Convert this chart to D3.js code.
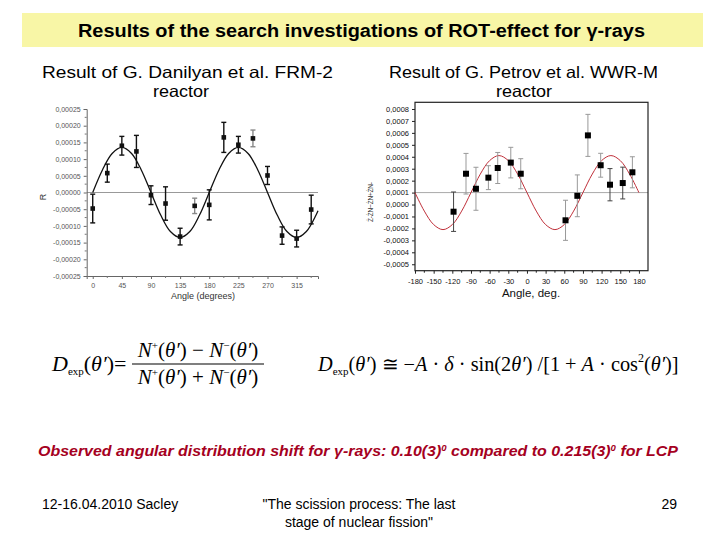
<!DOCTYPE html>
<html><head><meta charset="utf-8">
<script src="https://cdn.jsdelivr.net/npm/d3@7"></script>
<style>
html,body{margin:0;padding:0;background:#fff;}
svg{display:block;}
</style></head>
<body>
<script>
// ---------- DATA ----------
// Left chart: G. Danilyan et al., FRM-2
const leftAngles = [0, 22.5, 45, 67.5, 90, 112.5, 135, 157.5, 180, 202.5, 225, 247.5, 270, 292.5, 315, 337.5];
const leftR      = [-0.000048, 0.000058, 0.00014, 0.000123, -0.000008, -0.000033, -0.000132, -0.00004, -0.000037, 0.000165, 0.000143, 0.000162, 0.000051, -0.000129, -0.000138, -0.000051];
const leftErr    = [0.000043, 0.000027, 0.000028, 0.000048, 0.000028, 0.00005, 0.000025, 0.000023, 0.000045, 0.000045, 0.000025, 0.000025, 0.000027, 0.000026, 0.000025, 0.000043];
const leftErrGray = [false,false,false,false,false,false,false,true,false,false,false,true,false,false,false,false];
const leftFitAngles = [0,15,30,45,60,75,90,105,120,135,150,165,180,195,210,225,240,255,270,285,300,315,330,345,348];
const leftFitR      = [0,0.0000675,0.000117,0.000135,0.000117,0.0000675,0,-0.0000675,-0.000117,-0.000135,-0.000117,-0.0000675,0,0.0000675,0.000117,0.000135,0.000117,0.0000675,0,-0.0000675,-0.000117,-0.000135,-0.000117,-0.0000675,-0.000055];
const leftXTicks = [0,45,90,135,180,225,270,315];
const leftYTicks = [-0.00025,-0.0002,-0.00015,-0.0001,-0.00005,0,0.00005,0.0001,0.00015,0.0002,0.00025];

// Right chart: G. Petrov et al., WWR-M
const rightAngles = [-118, -98, -82, -62, -47, -26, -10, 62, 81, 98, 118.5, 133.5, 154, 169.5];
const rightD      = [-0.00006, 0.000258, 0.000132, 0.000225, 0.000306, 0.000351, 0.000258, -0.000132, 0.000073, 0.000579, 0.000329, 0.000166, 0.00018, 0.00027];
const rightErr    = [0.000165, 0.00017, 0.00018, 0.0001, 0.00013, 0.000128, 0.000126, 0.000168, 0.000175, 0.000176, 0.0001, 0.000135, 0.000133, 0.00013];
const rightErrDark = [true,false,false,false,false,false,false,false,false,false,false,true,true,false];
const rightFitAngles = [-180,-165,-150,-135,-120,-105,-90,-75,-60,-45,-30,-15,0,15,30,45,60,75,90,105,120,135,150,165,180];
const rightFitD      = [0.0001,-0.000055,-0.000168,-0.00021,-0.000168,-0.000055,0.0001,0.000255,0.000368,0.00041,0.000368,0.000255,0.0001,-0.000055,-0.000168,-0.00021,-0.000168,-0.000055,0.0001,0.000255,0.000368,0.00041,0.000368,0.000255,0.0001];
const rightXTicks = [-180,-150,-120,-90,-60,-30,0,30,60,90,120,150,180];
const rightYTicks = [-0.0005,-0.0004,-0.0003,-0.0002,-0.0001,0,0.0001,0.0002,0.0003,0.0004,0.0005,0.0006,0.0007,0.0008];

// ---------- SVG ----------
const W = 720, H = 540;
const svg = d3.select("body").append("svg").attr("width", W).attr("height", H);
const sans = "'Liberation Sans', Arial, sans-serif";
const serif = "'Liberation Serif', 'Times New Roman', serif";

// Title bar
svg.append("rect").attr("x", 22).attr("y", 13).attr("width", 681).attr("height", 34).attr("fill", "#F8F6A6");
svg.append("text").attr("x", 78).attr("y", 37)
  .attr("font-family", sans).attr("font-weight", "bold").attr("font-size", 18).attr("fill", "#000")
  .attr("textLength", 567).attr("lengthAdjust", "spacingAndGlyphs")
  .text("Results of the search investigations of ROT-effect for γ-rays");

// Subtitles
function sub(x, lines) {
  lines.forEach((l, i) => svg.append("text").attr("x", x).attr("y", 78 + i * 19)
    .attr("font-family", sans).attr("font-size", 16.5).attr("fill", "#000")
    .attr("textLength", l.w).attr("lengthAdjust", "spacingAndGlyphs").text(l.t));
}
sub(42, [{t: "Result of  G. Danilyan et al. FRM-2", w: 291}]);
sub(153, [{t: "", w: 1}, {t: "reactor", w: 56}]);
sub(389, [{t: "Result of G. Petrov et al. WWR-M", w: 269}]);
sub(496, [{t: "", w: 1}, {t: "reactor", w: 56}]);

function fmtComma(d, p) {
  const s = Math.abs(d).toFixed(p).replace(".", ",");
  return (d < -1e-12 ? "-" : "") + s;
}

// ---------- LEFT CHART ----------
const xL = d3.scaleLinear().domain([-9.3, 348]).range([86.7, 318]);
const yL = d3.scaleLinear().domain([-0.00025, 0.00025]).range([276, 109]);
const gL = svg.append("g");
gL.append("line").attr("x1", xL(-9.3)).attr("x2", xL(348)).attr("y1", yL(0)).attr("y2", yL(0))
  .attr("stroke", "#999").attr("stroke-width", 1);
const axL = d3.axisLeft(yL).tickValues(leftYTicks).tickSize(3).tickFormat(d => fmtComma(d, 5));
const axLg = gL.append("g").attr("transform", `translate(${xL(-9.3)},0)`).call(axL);
const axB = d3.axisBottom(xL).tickValues(leftXTicks).tickSize(3).tickFormat(d3.format("d"));
const axBg = gL.append("g").attr("transform", `translate(0,${yL(-0.00025)})`).call(axB);
[axLg, axBg].forEach(g => {
  g.select(".domain").attr("stroke", "#666");
  g.selectAll(".tick line").attr("stroke", "#666");
  g.selectAll("text").attr("font-family", sans).attr("font-size", 7).attr("fill", "#555");
});
axBg.selectAll("text").attr("dy", "0.9em");
const minorLY = d3.range(-0.000225, 0.00025, 0.00005);
gL.selectAll(".mly").data(minorLY).join("line").attr("x1", xL(-9.3) - 2).attr("x2", xL(-9.3))
  .attr("y1", d => yL(d)).attr("y2", d => yL(d)).attr("stroke", "#777");
const minorLX = d3.range(22.5, 348, 45);
gL.selectAll(".mlx").data(minorLX).join("line").attr("x1", d => xL(d)).attr("x2", d => xL(d))
  .attr("y1", yL(-0.00025)).attr("y2", yL(-0.00025) + 2).attr("stroke", "#777");
gL.append("text").attr("x", 203).attr("y", 299).attr("text-anchor", "middle").attr("font-family", sans)
  .attr("font-size", 9).attr("fill", "#333").text("Angle (degrees)");
gL.append("text").attr("transform", `translate(46,197) rotate(-90)`).attr("text-anchor", "middle")
  .attr("font-family", sans).attr("font-size", 9).attr("fill", "#333").text("R");
const leftFit = leftFitAngles.map((a, i) => [a, leftFitR[i]]);
gL.append("path").datum(leftFit).attr("fill", "none").attr("stroke", "#111").attr("stroke-width", 1.3)
  .attr("d", d3.line().x(d => xL(d[0])).y(d => yL(d[1])).curve(d3.curveCatmullRom));
const leftPts = leftAngles.map((a, i) => ({a, v: leftR[i], e: leftErr[i], g: leftErrGray[i]}));
const ebL = gL.selectAll(".ebl").data(leftPts).join("g").attr("stroke", d => d.g ? "#888" : "#111").attr("stroke-width", 1.4);
ebL.append("line").attr("x1", d => xL(d.a)).attr("x2", d => xL(d.a)).attr("y1", d => yL(d.v + d.e)).attr("y2", d => yL(d.v - d.e));
ebL.append("line").attr("x1", d => xL(d.a) - 2.5).attr("x2", d => xL(d.a) + 2.5).attr("y1", d => yL(d.v + d.e)).attr("y2", d => yL(d.v + d.e));
ebL.append("line").attr("x1", d => xL(d.a) - 2.5).attr("x2", d => xL(d.a) + 2.5).attr("y1", d => yL(d.v - d.e)).attr("y2", d => yL(d.v - d.e));
gL.selectAll(".ptl").data(leftPts).join("rect").attr("x", d => xL(d.a) - 2.3).attr("y", d => yL(d.v) - 2.3)
  .attr("width", 4.6).attr("height", 4.6).attr("fill", "#111");

// ---------- RIGHT CHART ----------
const xR = d3.scaleLinear().domain([-180, 194.6]).range([415, 648]);
const yR = d3.scaleLinear().domain([-0.000554, 0.000856]).range([270.7, 102.3]);
const gR = svg.append("g");
gR.append("line").attr("x1", xR(-180)).attr("x2", xR(194.6)).attr("y1", yR(0.0001)).attr("y2", yR(0.0001))
  .attr("stroke", "#aaa").attr("stroke-width", 1);
gR.append("rect").attr("x", xR(-180)).attr("y", yR(0.000856)).attr("width", xR(194.6) - xR(-180))
  .attr("height", yR(-0.000554) - yR(0.000856)).attr("fill", "none").attr("stroke", "#222").attr("stroke-width", 1.2);
const axRL = d3.axisLeft(yR).tickValues(rightYTicks).tickSize(3).tickFormat(d => fmtComma(d, 4));
const axRLg = gR.append("g").attr("transform", `translate(${xR(-180)},0)`).call(axRL);
const axRB = d3.axisBottom(xR).tickValues(rightXTicks).tickSize(3).tickFormat(d3.format("d"));
const axRBg = gR.append("g").attr("transform", `translate(0,${yR(-0.000554)})`).call(axRB);
[axRLg, axRBg].forEach(g => {
  g.select(".domain").remove();
  g.selectAll(".tick line").attr("stroke", "#222");
  g.selectAll("text").attr("font-family", sans).attr("font-size", 7.5).attr("fill", "#111");
});
axRBg.selectAll("text").attr("dy", "0.95em");
axRBg.selectAll("text").text(d => d < 0 ? "-" + Math.abs(d) : d);
const minorRX = d3.range(-165, 195, 30);
gR.selectAll(".mrx").data(minorRX).join("line").attr("x1", d => xR(d)).attr("x2", d => xR(d))
  .attr("y1", yR(-0.000554)).attr("y2", yR(-0.000554) + 2).attr("stroke", "#222");
gR.append("text").attr("x", 531).attr("y", 297).attr("text-anchor", "middle").attr("font-family", sans)
  .attr("font-size", 11.5).attr("fill", "#111").text("Angle, deg.");
// garbled y-axis title (as in the source slide), placed left of the tick labels
gR.append("text").attr("transform", "translate(373,222) rotate(-90)").attr("font-family", sans).attr("font-size", 6.5)
  .attr("fill", "#333").attr("textLength", 40).text("Ż-ŻN~ŻN+ŻN-");
const rightFit = rightFitAngles.map((a, i) => [a, rightFitD[i]]);
gR.append("path").datum(rightFit).attr("fill", "none").attr("stroke", "#C0303A").attr("stroke-width", 1)
  .attr("d", d3.line().x(d => xR(d[0])).y(d => yR(d[1])).curve(d3.curveCatmullRom));
const rightPts = rightAngles.map((a, i) => ({a, v: rightD[i], e: rightErr[i], k: rightErrDark[i]}));
const ebR = gR.selectAll(".ebr").data(rightPts).join("g").attr("stroke", d => d.k ? "#444" : "#999").attr("stroke-width", 1);
ebR.append("line").attr("x1", d => xR(d.a)).attr("x2", d => xR(d.a)).attr("y1", d => yR(d.v + d.e)).attr("y2", d => yR(d.v - d.e));
ebR.append("line").attr("x1", d => xR(d.a) - 2.5).attr("x2", d => xR(d.a) + 2.5).attr("y1", d => yR(d.v + d.e)).attr("y2", d => yR(d.v + d.e));
ebR.append("line").attr("x1", d => xR(d.a) - 2.5).attr("x2", d => xR(d.a) + 2.5).attr("y1", d => yR(d.v - d.e)).attr("y2", d => yR(d.v - d.e));
gR.selectAll(".ptr").data(rightPts).join("rect").attr("x", d => xR(d.a) - 3).attr("y", d => yR(d.v) - 3)
  .attr("width", 6).attr("height", 6).attr("fill", "#000");

// ---------- FORMULAS ----------
const fL = svg.append("g").attr("font-family", serif).attr("fill", "#000");
const t1 = fL.append("text").attr("x", 52).attr("y", 371).attr("font-size", 22);
t1.append("tspan").attr("font-style", "italic").text("D");
t1.append("tspan").attr("font-size", 11).attr("dy", 4).text("exp");
t1.append("tspan").attr("dy", -4).text("(");
t1.append("tspan").attr("font-style", "italic").text("θ′");
t1.append("tspan").text(")=");
function NN(y, op) {
  const t = fL.append("text").attr("x", 198).attr("y", y).attr("text-anchor", "middle").attr("font-size", 21);
  t.append("tspan").attr("font-style", "italic").text("N");
  t.append("tspan").attr("font-size", 11).attr("dy", -8).text("+");
  t.append("tspan").attr("dy", 8).text("(");
  t.append("tspan").attr("font-style", "italic").text("θ′");
  t.append("tspan").text(") " + op + " ");
  t.append("tspan").attr("font-style", "italic").text("N");
  t.append("tspan").attr("font-size", 11).attr("dy", -8).text("−");
  t.append("tspan").attr("dy", 8).text("(");
  t.append("tspan").attr("font-style", "italic").text("θ′");
  t.append("tspan").text(")");
}
NN(357, "−");
NN(384, "+");
fL.append("line").attr("x1", 132).attr("x2", 264).attr("y1", 364).attr("y2", 364).attr("stroke", "#000").attr("stroke-width", 1.2);

const t2 = fL.append("text").attr("x", 318).attr("y", 371).attr("font-size", 20.3);
t2.append("tspan").attr("font-style", "italic").text("D");
t2.append("tspan").attr("font-size", 11).attr("dy", 4).text("exp");
t2.append("tspan").attr("dy", -4).text("(");
t2.append("tspan").attr("font-style", "italic").text("θ′");
t2.append("tspan").text(") ≅ −");
t2.append("tspan").attr("font-style", "italic").text("A");
t2.append("tspan").text(" · ");
t2.append("tspan").attr("font-style", "italic").text("δ");
t2.append("tspan").text(" · sin(2");
t2.append("tspan").attr("font-style", "italic").text("θ′");
t2.append("tspan").text(") /[1 + ");
t2.append("tspan").attr("font-style", "italic").text("A");
t2.append("tspan").text(" · cos");
t2.append("tspan").attr("font-size", 12).attr("dy", -9).text("2");
t2.append("tspan").attr("dy", 9).text("(");
t2.append("tspan").attr("font-style", "italic").text("θ′");
t2.append("tspan").text(")]");

// ---------- CONCLUSION ----------
const c = svg.append("text").attr("x", 38).attr("y", 456).attr("font-family", sans).attr("font-size", 15)
  .attr("font-weight", "bold").attr("font-style", "italic").attr("fill", "#A50021")
  .attr("textLength", 640).attr("lengthAdjust", "spacingAndGlyphs");
c.append("tspan").text("Observed angular distribution shift for γ-rays: 0.10(3)");
c.append("tspan").attr("font-size", 9).attr("dy", -5).text("0");
c.append("tspan").attr("dy", 5).text(" compared to 0.215(3)");
c.append("tspan").attr("font-size", 9).attr("dy", -5).text("0");
c.append("tspan").attr("dy", 5).text(" for LCP");

// ---------- FOOTER ----------
const ft = svg.append("g").attr("font-family", sans).attr("font-size", 14).attr("fill", "#000");
ft.append("text").attr("x", 42).attr("y", 509).text("12-16.04.2010  Sacley");
ft.append("text").attr("x", 359).attr("y", 509).attr("text-anchor", "middle").text("\"The scission process: The last");
ft.append("text").attr("x", 359).attr("y", 527).attr("text-anchor", "middle").text("stage of nuclear fission\"");
ft.append("text").attr("x", 677).attr("y", 509).attr("text-anchor", "end").text("29");
</script>
</body></html>
